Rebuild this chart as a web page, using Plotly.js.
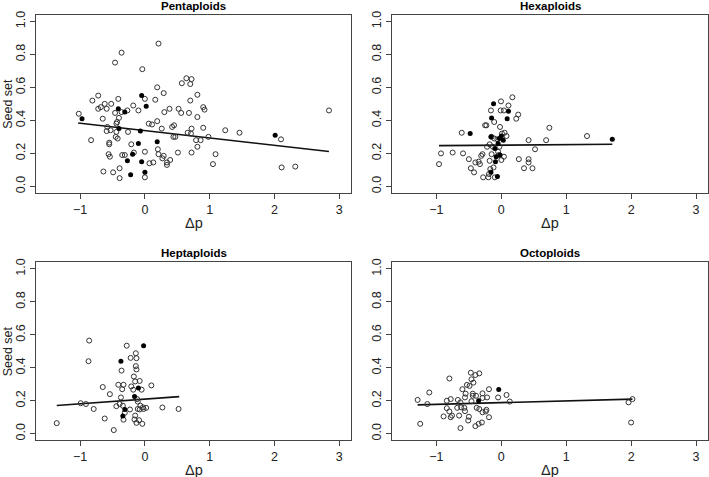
<!DOCTYPE html>
<html>
<head>
<meta charset="utf-8">
<script src="https://cdn.plot.ly/plotly-3.0.1.min.js"></script>
<style>html,body{margin:0;padding:0;background:#fff;} #chart{width:709px;height:477px;}</style>
</head>
<body>
<div id="chart"></div>
<script>
// ---------- data ----------
const panelTitles = ["Pentaploids", "Hexaploids", "Heptaploids", "Octoploids"];
const xTickVals = [-1, 0, 1, 2, 3];
const yTickVals = [0, 0.2, 0.4, 0.6, 0.8, 1.0];

// Pentaploids
const pentaOpenX = [-1.02,-0.83,-0.81,-0.72,-0.72,-0.68,-0.65,-0.64,-0.62,-0.59,-0.58,-0.59,-0.56,-0.54,-0.55,-0.55,-0.53,-0.52,-0.49,-0.46,-0.46,-0.44,-0.44,-0.45,-0.42,-0.43,-0.41,-0.40,-0.39,-0.39,-0.36,-0.36,-0.35,-0.31,-0.27,-0.26,-0.21,-0.18,-0.17,-0.10,-0.04,0.00,0.00,0.00,0.06,0.07,0.11,0.13,0.16,0.19,0.21,0.19,0.20,0.21,0.26,0.29,0.29,0.27,0.30,0.34,0.34,0.39,0.38,0.42,0.45,0.44,0.47,0.51,0.52,0.56,0.57,0.64,0.66,0.68,0.70,0.70,0.72,0.71,0.72,0.72,0.79,0.81,0.81,0.81,0.86,0.90,0.90,0.92,0.98,1.05,1.09,1.24,1.46,2.10,2.11,2.32,2.84];
const pentaOpenY = [0.44,0.28,0.52,0.55,0.47,0.48,0.41,0.09,0.50,0.47,0.36,0.335,0.195,0.18,0.265,0.255,0.34,0.50,0.085,0.75,0.445,0.38,0.33,0.30,0.29,0.39,0.53,0.415,0.11,0.05,0.81,0.45,0.19,0.19,0.46,0.33,0.255,0.49,0.205,0.46,0.71,0.53,0.21,0.055,0.38,0.14,0.375,0.145,0.525,0.60,0.865,0.395,0.225,0.195,0.35,0.565,0.185,0.17,0.45,0.145,0.13,0.16,0.47,0.36,0.37,0.30,0.30,0.205,0.47,0.445,0.625,0.655,0.325,0.445,0.52,0.62,0.65,0.32,0.35,0.205,0.28,0.42,0.555,0.24,0.28,0.355,0.48,0.465,0.30,0.135,0.195,0.34,0.325,0.285,0.115,0.12,0.46];
const pentaFilledX = [-0.97,-0.41,-0.40,-0.31,-0.27,-0.22,-0.19,-0.10,-0.07,-0.05,-0.05,0.02,0.00,0.19,2.01];
const pentaFilledY = [0.41,0.47,0.35,0.45,0.155,0.07,0.195,0.26,0.335,0.55,0.15,0.485,0.085,0.27,0.31];
const pentaFitX = [-1.03, 2.84];
const pentaFitY = [0.384, 0.211];

// Hexaploids
const hexaOpenX = [-0.96,-0.93,-0.75,-0.61,-0.59,-0.50,-0.47,-0.42,-0.40,-0.35,-0.33,-0.31,-0.29,-0.28,-0.25,-0.23,-0.22,-0.20,-0.18,-0.18,-0.19,-0.16,-0.15,-0.15,-0.17,-0.11,-0.11,-0.12,-0.10,-0.13,-0.06,-0.05,-0.04,-0.02,-0.01,-0.005,-0.03,0.00,0.01,0.04,0.04,0.05,0.08,0.11,0.17,0.23,0.26,0.27,0.35,0.42,0.42,0.42,0.48,0.52,0.69,0.74,1.32];
const hexaOpenY = [0.135,0.20,0.205,0.325,0.20,0.165,0.11,0.085,0.145,0.15,0.135,0.185,0.195,0.055,0.37,0.37,0.24,0.055,0.255,0.155,0.075,0.46,0.30,0.195,0.105,0.39,0.29,0.115,0.055,0.24,0.285,0.21,0.19,0.36,0.46,0.515,0.24,0.16,0.32,0.46,0.18,0.325,0.305,0.49,0.54,0.41,0.435,0.165,0.11,0.28,0.165,0.145,0.11,0.225,0.28,0.355,0.305];
const hexaFilledX = [-0.48,-0.15,-0.12,-0.16,-0.16,-0.10,-0.09,-0.06,-0.08,-0.05,-0.03,-0.02,0.00,0.03,0.09,0.11,1.71];
const hexaFilledY = [0.32,0.415,0.50,0.30,0.085,0.23,0.15,0.06,0.18,0.26,0.29,0.19,0.305,0.28,0.41,0.455,0.285];
const hexaFitX = [-0.96, 1.71];
const hexaFitY = [0.247, 0.255];

// Heptaploids
const heptaOpenX = [-1.36,-0.99,-0.91,-0.86,-0.87,-0.79,-0.65,-0.62,-0.54,-0.48,-0.44,-0.41,-0.39,-0.37,-0.36,-0.35,-0.33,-0.34,-0.33,-0.31,-0.28,-0.23,-0.22,-0.21,-0.18,-0.17,-0.16,-0.15,-0.15,-0.14,-0.14,-0.13,-0.13,-0.13,-0.12,-0.11,-0.11,-0.09,-0.08,-0.07,-0.08,-0.05,-0.04,-0.03,-0.02,0.02,0.10,0.27,0.52];
const heptaOpenY = [0.064,0.185,0.18,0.565,0.44,0.15,0.283,0.092,0.24,0.022,0.167,0.297,0.18,0.22,0.383,0.27,0.297,0.17,0.085,0.127,0.534,0.147,0.46,0.287,0.267,0.347,0.086,0.11,0.317,0.488,0.41,0.39,0.458,0.066,0.21,0.195,0.15,0.082,0.32,0.17,0.147,0.267,0.06,0.16,0.15,0.157,0.293,0.159,0.15];
const heptaFilledX = [-0.37,-0.34,-0.31,-0.16,-0.10,-0.02];
const heptaFilledY = [0.44,0.108,0.147,0.225,0.277,0.534];
const heptaFitX = [-1.36, 0.53];
const heptaFitY = [0.171, 0.225];

// Octoploids
const octoOpenX = [-1.29,-1.25,-1.14,-1.11,-0.89,-0.84,-0.84,-0.80,-0.80,-0.78,-0.78,-0.76,-0.67,-0.68,-0.65,-0.63,-0.63,-0.62,-0.60,-0.57,-0.56,-0.56,-0.55,-0.53,-0.51,-0.50,-0.49,-0.47,-0.46,-0.46,-0.44,-0.44,-0.43,-0.40,-0.40,-0.39,-0.38,-0.35,-0.34,-0.34,-0.30,-0.29,-0.29,-0.29,-0.24,-0.23,-0.22,-0.19,-0.19,-0.05,0.08,0.13,1.96,2.02,2.00];
const octoOpenY = [0.205,0.06,0.18,0.25,0.105,0.20,0.155,0.335,0.135,0.21,0.10,0.11,0.205,0.157,0.11,0.19,0.034,0.16,0.27,0.157,0.137,0.22,0.243,0.296,0.08,0.103,0.29,0.37,0.197,0.33,0.243,0.23,0.31,0.046,0.356,0.23,0.157,0.06,0.366,0.15,0.068,0.13,0.245,0.217,0.135,0.145,0.22,0.10,0.27,0.22,0.235,0.195,0.19,0.21,0.068];
const octoFilledX = [-0.35,-0.04];
const octoFilledY = [0.20,0.268];
const octoFitX = [-1.29, 2.02];
const octoFitY = [0.175, 0.21];

// ---------- layout ----------
const W = 709, H = 477;
const boxes = [
  {l:36, r:351, t:14.7, b:193},
  {l:392.3, r:707.7, t:14.7, b:193},
  {l:36, r:351, t:262.3, b:440.3},
  {l:392.3, r:707.7, t:262.3, b:440.3}
];
const ink = "#222";
const FONT = "Liberation Sans, Arial, Helvetica, sans-serif";

const sets = [
  [pentaOpenX, pentaOpenY, pentaFilledX, pentaFilledY, pentaFitX, pentaFitY],
  [hexaOpenX, hexaOpenY, hexaFilledX, hexaFilledY, hexaFitX, hexaFitY],
  [heptaOpenX, heptaOpenY, heptaFilledX, heptaFilledY, heptaFitX, heptaFitY],
  [octoOpenX, octoOpenY, octoFilledX, octoFilledY, octoFitX, octoFitY]
];

const traces = [];
const layout = {
  width: W, height: H,
  margin: {l:0, r:0, t:0, b:0},
  paper_bgcolor: "#fff", plot_bgcolor: "#fff",
  showlegend: false,
  font: {family: FONT, color: ink},
  annotations: []
};

sets.forEach((s, i) => {
  const n = i === 0 ? "" : String(i + 1);
  const xa = "x" + n, ya = "y" + n;
  traces.push({x: s[4], y: s[5], xaxis: xa, yaxis: ya, mode: "lines", type: "scatter",
    line: {color: "#111", width: 1.6}, hoverinfo: "skip"});
  traces.push({x: s[0], y: s[1], xaxis: xa, yaxis: ya, mode: "markers", type: "scatter",
    marker: {symbol: "circle-open", size: 5, color: "#333", line: {width: 1, color: "#333"}}});
  traces.push({x: s[2], y: s[3], xaxis: xa, yaxis: ya, mode: "markers", type: "scatter",
    marker: {symbol: "circle", size: 5, color: "#000"}});

  const b = boxes[i];
  const axCommon = {showline: true, mirror: true, linecolor: "#444", linewidth: 1,
    ticks: "outside", ticklen: 5, tickwidth: 1, tickcolor: "#444",
    showgrid: false, zeroline: false, tickfont: {size: 12.5, color: ink, family: FONT}, fixedrange: true};
  layout["xaxis" + n] = Object.assign({}, axCommon, {
    domain: [b.l / W, b.r / W], anchor: ya, range: [-1.68, 3.18],
    tickmode: "array", tickvals: xTickVals, ticktext: xTickVals.map(v => v < 0 ? "\u2212" + Math.abs(v) : String(v))
  });
  layout["yaxis" + n] = Object.assign({}, axCommon, {
    domain: [1 - b.b / H, 1 - b.t / H], anchor: xa, range: [-0.04, 1.04],
    tickmode: "array", tickvals: yTickVals, ticktext: yTickVals.map(v => v.toFixed(1)), tickangle: -90
  });

  const cx = (b.l + b.r) / 2 / W;
  layout.annotations.push({text: "<b>" + panelTitles[i] + "</b>", xref: "paper", yref: "paper",
    x: cx, y: 1 - (b.t - 9) / H, showarrow: false, xanchor: "center", yanchor: "middle",
    font: {size: 11.5, color: "#000", family: FONT}});
  layout.annotations.push({text: "\u0394p", xref: "paper", yref: "paper",
    x: cx, y: 1 - (b.b + 30) / H, showarrow: false, xanchor: "center", yanchor: "middle",
    font: {size: 14.5, color: ink, family: FONT}});
  if (i === 0 || i === 2) {
    layout.annotations.push({text: "Seed set", xref: "paper", yref: "paper",
      x: 8 / W, y: 1 - ((b.t + b.b) / 2) / H, showarrow: false, textangle: -90,
      xanchor: "center", yanchor: "middle", font: {size: 12.5, color: ink, family: FONT}});
  }
});

Plotly.newPlot("chart", traces, layout, {displayModeBar: false, staticPlot: true});
</script>
</body>
</html>
